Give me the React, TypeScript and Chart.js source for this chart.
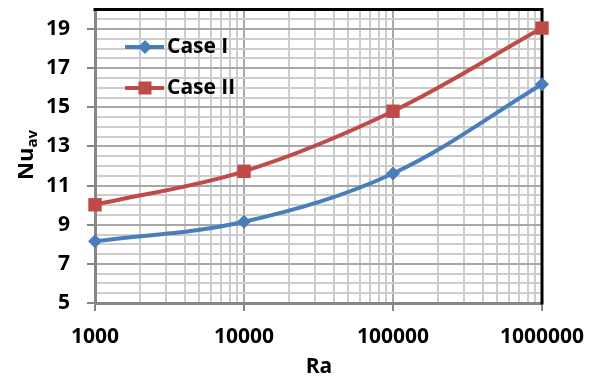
import React, { useEffect, useRef } from 'react';
import { Chart, registerables } from 'chart.js';

Chart.register(...registerables);

// ---- data ----
const raValues = [1000, 10000, 100000, 1000000];
const caseI = [8.15, 9.15, 11.62, 16.18];
const caseII = [10.02, 11.73, 14.8, 19.05];
const xTickLabels = [1000, 10000, 100000, 1000000];
const xMinorMultipliers = [1, 2, 3, 4, 5, 6, 7, 8, 9];
const yTickLabels = [5, 7, 9, 11, 13, 15, 17, 19];
const seriesNames = ['Case I', 'Case II'];

const FONT = '"Open Sans", Lato, sans-serif';
const BLUE = '#4A7EBB';
const RED = '#BE4B48';
const GRID_MAJOR = '#a8a8a8';
const GRID_MINOR = '#cdcdcd';
const AXIS = '#868686';

const xGridValues: number[] = [];
xTickLabels.slice(0, -1).forEach((d) => xMinorMultipliers.forEach((m) => xGridValues.push(m * d)));
xGridValues.push(xTickLabels[xTickLabels.length - 1]);

function drawDiamond(ctx: CanvasRenderingContext2D, x: number, y: number, r: number) {
  ctx.beginPath();
  ctx.moveTo(x - r, y);
  ctx.lineTo(x, y - r);
  ctx.lineTo(x + r, y);
  ctx.lineTo(x, y + r);
  ctx.closePath();
  ctx.fill();
}

const decor = {
  id: 'decor',
  beforeDatasetsDraw(chart: any) {
    const { ctx, chartArea } = chart;
    const { left, right, top, bottom } = chartArea;
    ctx.save();
    ctx.strokeStyle = '#000';
    ctx.lineWidth = 3;
    ctx.beginPath();
    ctx.moveTo(left - 1.5, top);
    ctx.lineTo(right, top);
    ctx.lineTo(right, bottom + 1.5);
    ctx.stroke();
    ctx.restore();
  },
  afterDraw(chart: any) {
    const { ctx } = chart;
    ctx.save();
    // legend
    const items = [
      { name: seriesNames[0], color: BLUE, y: 47, marker: 'diamond' },
      { name: seriesNames[1], color: RED, y: 88, marker: 'square' },
    ];
    items.forEach((it) => {
      ctx.strokeStyle = it.color;
      ctx.fillStyle = it.color;
      ctx.lineWidth = 4;
      ctx.beginPath();
      ctx.moveTo(125, it.y);
      ctx.lineTo(164, it.y);
      ctx.stroke();
      if (it.marker === 'diamond') drawDiamond(ctx, 145, it.y, 7);
      else ctx.fillRect(145 - 6.5, it.y - 6.5, 13, 13);
      ctx.fillStyle = '#000';
      ctx.font = `bold 21px ${FONT}`;
      ctx.textAlign = 'left';
      ctx.textBaseline = 'middle';
      ctx.fillText(it.name, 167, it.y);
    });
    // x title
    ctx.fillStyle = '#000';
    ctx.font = `bold 21px ${FONT}`;
    ctx.textAlign = 'center';
    ctx.textBaseline = 'alphabetic';
    ctx.fillText('Ra', 319, 373);
    // y title with subscript
    ctx.translate(33, 155);
    ctx.rotate(-Math.PI / 2);
    ctx.textAlign = 'left';
    ctx.font = `bold 22px ${FONT}`;
    const wNu = ctx.measureText('Nu').width;
    ctx.font = `bold 15px ${FONT}`;
    const wAv = ctx.measureText('av').width;
    const start = -(wNu + wAv) / 2;
    ctx.font = `bold 22px ${FONT}`;
    ctx.fillText('Nu', start, 0);
    ctx.font = `bold 15px ${FONT}`;
    ctx.fillText('av', start + wNu, 4);
    ctx.restore();
  },
};

export default function App() {
  const ref = useRef<HTMLCanvasElement>(null);
  useEffect(() => {
    const canvas = ref.current!;
    const chart = new Chart(canvas, {
      type: 'line',
      data: {
        datasets: [
          {
            label: seriesNames[0],
            data: raValues.map((x, i) => ({ x, y: caseI[i] })),
            borderColor: BLUE,
            backgroundColor: BLUE,
            borderWidth: 4,
            pointStyle: 'rectRot',
            pointRadius: 7,
            pointBorderWidth: 0,
            tension: 0.35,
            clip: false as any,
          },
          {
            label: seriesNames[1],
            data: raValues.map((x, i) => ({ x, y: caseII[i] })),
            borderColor: RED,
            backgroundColor: RED,
            borderWidth: 4,
            pointStyle: 'rect',
            pointRadius: 9.5,
            pointBorderWidth: 0,
            tension: 0.35,
            clip: false as any,
          },
        ],
      },
      options: {
        responsive: false,
        animation: false,
        devicePixelRatio: 1,
        layout: { padding: { top: 7, right: 56, left: 0, bottom: 0 } },
        plugins: { legend: { display: false }, tooltip: { enabled: false } },
        scales: {
          x: {
            type: 'logarithmic',
            min: 1000,
            max: 1000000,
            afterBuildTicks: (s: any) => {
              s.ticks = xGridValues.map((v) => ({ value: v }));
            },
            afterFit: (s: any) => {
              s.height = 75;
              s.paddingLeft = 0;
              s.paddingRight = 0;
            },
            ticks: {
              autoSkip: false,
              maxRotation: 0,
              minRotation: 0,
              padding: 13,
              color: '#000',
              font: { family: FONT, size: 21, weight: 'bold' },
              callback: (v: any) => (xTickLabels.includes(Number(v)) ? String(v) : ''),
            },
            grid: {
              lineWidth: 2,
              tickLength: 8,
              tickWidth: 2,
              color: (c: any) => (c.tick && xTickLabels.includes(c.tick.value) ? GRID_MAJOR : GRID_MINOR),
              tickColor: (c: any) => (c.tick && xTickLabels.includes(c.tick.value) ? AXIS : 'rgba(0,0,0,0)'),
            },
            border: { color: AXIS, width: 3 },
          },
          y: {
            type: 'linear',
            min: 5,
            max: 20,
            afterFit: (s: any) => {
              s.width = 95;
              s.paddingTop = 0;
              s.paddingBottom = 0;
            },
            ticks: {
              stepSize: 0.5,
              autoSkip: false,
              padding: 17,
              color: '#000',
              font: { family: FONT, size: 21, weight: 'bold' },
              callback: (v: any) => (yTickLabels.includes(Number(v)) ? String(v) : ''),
            },
            grid: {
              lineWidth: 2,
              tickLength: 8,
              tickWidth: 2,
              color: (c: any) => (c.tick && yTickLabels.includes(c.tick.value) ? GRID_MAJOR : GRID_MINOR),
              tickColor: (c: any) => (c.tick && yTickLabels.includes(c.tick.value) ? AXIS : 'rgba(0,0,0,0)'),
            },
            border: { color: AXIS, width: 3 },
          },
        },
      },
      plugins: [decor],
    } as any);
    return () => chart.destroy();
  }, []);
  return (
    <div style={{ position: 'absolute', left: 0, top: 0, width: 598, height: 378, background: '#fff' }}>
      <canvas ref={ref} width={598} height={378} style={{ display: 'block' }} />
    </div>
  );
}
